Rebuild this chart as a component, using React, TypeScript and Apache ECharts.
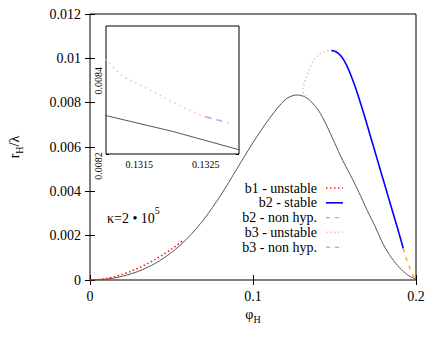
import React, { useEffect, useRef } from 'react';
import * as echarts from 'echarts';

const FONT = 'Liberation Serif, Times New Roman, serif';

// Tick values
const mainXTicks = [0, 0.1, 0.2];
const mainYTicks = [0, 0.002, 0.004, 0.006, 0.008, 0.01, 0.012];
const insetXTicks = [0.1315, 0.1325];
const insetYTicks = [0.0082, 0.0084];

// Black reference curve (no legend entry)
const blackPhi = [0, 0.01, 0.02, 0.03, 0.04, 0.05, 0.06, 0.07, 0.08, 0.09, 0.1, 0.11, 0.12, 0.127, 0.131, 0.132, 0.133, 0.135, 0.14, 0.145, 0.15, 0.155, 0.16, 0.165, 0.17, 0.175, 0.18, 0.185, 0.19, 0.195, 0.2];
const blackR = [0, 0.00004, 0.00017, 0.0004, 0.00075, 0.00124, 0.0019, 0.00275, 0.0038, 0.005, 0.0062, 0.00728, 0.00815, 0.00835, 0.00829, 0.008253, 0.00821, 0.0081, 0.00767, 0.007, 0.0062, 0.0054, 0.0047, 0.00395, 0.00315, 0.0024, 0.0016, 0.001, 0.00055, 0.00022, 0.00003];

// b1 - unstable
const b1UnstablePhi = [0, 0.005, 0.01, 0.015, 0.02, 0.025, 0.03, 0.035, 0.04, 0.045, 0.05, 0.0565];
const b1UnstableR = [0, 0.00002, 0.00007, 0.00015, 0.00026, 0.00039, 0.00055, 0.00073, 0.00093, 0.00115, 0.00139, 0.00176];

// b2 - stable
const b2StablePhi = [0.148, 0.151, 0.154, 0.157, 0.16, 0.163, 0.166, 0.169, 0.172, 0.175, 0.178, 0.181, 0.184, 0.187, 0.19, 0.1922];
const b2StableR = [0.01035, 0.0103, 0.0101, 0.00975, 0.00925, 0.00865, 0.00797, 0.00725, 0.0065, 0.00575, 0.005, 0.00425, 0.0035, 0.00275, 0.002, 0.00142];

// b2 - non hyp.
const b2NonHypPhi = [0.1922, 0.194, 0.196, 0.198, 0.1995];
const b2NonHypR = [0.00142, 0.00098, 0.00058, 0.00024, 0.00004];

// b3 - unstable
const b3UnstablePhi = [0.1325, 0.13216, 0.13176, 0.13126, 0.131, 0.1306, 0.1305, 0.1308, 0.1315, 0.1325, 0.1337, 0.135, 0.1367, 0.139, 0.1408, 0.144, 0.148];
const b3UnstableR = [0.008287, 0.008309, 0.008342, 0.008381, 0.00842, 0.0085, 0.0086, 0.0087, 0.0089, 0.0091, 0.00932, 0.0096, 0.00985, 0.01007, 0.01019, 0.0103, 0.01035];

// b3 - non hyp.
const b3NonHypPhi = [0.1325, 0.1327, 0.13284];
const b3NonHypR = [0.008287, 0.008279, 0.008273];

const legendNames = ['b1 - unstable', 'b2 - stable', 'b2 - non hyp.', 'b3 - unstable', 'b3 - non hyp.'];

const zip = (xs: number[], ys: number[]) => xs.map((x, i) => [x, ys[i]]);

const STYLES: Record<string, { color: string; width: number; dash: number[] | 'solid' }> = {
  'b1 - unstable': { color: '#ff1a1a', width: 1.6, dash: [1.5, 2.5] },
  'b2 - stable': { color: '#0000ff', width: 1.6, dash: 'solid' },
  'b2 - non hyp.': { color: '#ffa500', width: 1.4, dash: [4, 5] },
  'b3 - unstable': { color: '#ffb8c6', width: 1.6, dash: [1.5, 2.5] },
  'b3 - non hyp.': { color: '#c6a4ff', width: 1.6, dash: [4, 5] },
};

export default function App() {
  const ref = useRef<HTMLDivElement>(null);
  useEffect(() => {
    if (!ref.current) return;
    const chart = echarts.init(ref.current, undefined, { renderer: 'svg' });

    const axisTick = (len: number) => ({ show: true, inside: true, length: len, lineStyle: { color: '#000', width: 1 } });
    const mkLine = (name: string, xs: number[], ys: number[], xi: number, yi: number, smooth: number | boolean, dashOverride?: number[]) => {
      const s = STYLES[name];
      return {
        type: 'line', name, xAxisIndex: xi, yAxisIndex: yi,
        data: zip(xs, ys), showSymbol: false, symbol: 'none', smooth, clip: true,
        lineStyle: { color: s.color, width: s.width, type: dashOverride || s.dash },
        z: 3,
      };
    };

    const legendGraphics: any[] = [];
    legendNames.forEach((n, i) => {
      const y = 188 + i * 14.8;
      const s = STYLES[n];
      legendGraphics.push({
        type: 'text', x: 317, y,
        style: { text: n, fontFamily: FONT, fontSize: 14, fill: '#000', align: 'right', verticalAlign: 'middle' },
      });
      legendGraphics.push({
        type: 'line', shape: { x1: 326, y1: y, x2: 343, y2: y },
        style: { stroke: s.color, lineWidth: s.width, lineDash: s.dash === 'solid' ? null : s.dash },
      });
    });

    const subRich = {
      a: { fontFamily: FONT, fontSize: 14, color: '#000', lineHeight: 20, verticalAlign: 'middle' },
      s: { fontFamily: FONT, fontSize: 10, color: '#000', lineHeight: 20, verticalAlign: 'bottom' },
    };

    const option: any = {
      animation: false,
      backgroundColor: '#fff',
      textStyle: { fontFamily: FONT },
      grid: [
        { left: 90, top: 14, width: 326, height: 266, show: true, borderColor: '#000', borderWidth: 1, backgroundColor: 'transparent', outerBoundsMode: 'none', containLabel: false },
        { left: 106, top: 26, width: 133, height: 128, show: true, borderColor: '#000', borderWidth: 1, backgroundColor: '#fff', outerBoundsMode: 'none', containLabel: false, z: 1 },
      ],
      xAxis: [
        {
          type: 'value', gridIndex: 0, position: 'bottom', min: 0, max: 0.2, interval: 0.1,
          axisLine: { show: false }, splitLine: { show: false }, axisTick: { ...axisTick(5), customValues: mainXTicks },
          axisLabel: { customValues: mainXTicks, fontFamily: FONT, fontSize: 14, color: '#000', margin: 9 },
          name: '{a|φ}{s|H}', nameLocation: 'middle', nameGap: 22,
          nameTextStyle: { rich: subRich },
        },
        {
          type: 'value', gridIndex: 0, position: 'top', min: 0, max: 0.2, interval: 0.1,
          axisLine: { show: false }, splitLine: { show: false }, axisTick: { ...axisTick(5), customValues: mainXTicks }, axisLabel: { show: false },
        },
        {
          type: 'value', gridIndex: 1, position: 'bottom', min: 0.131, max: 0.133,
          axisLine: { show: false }, splitLine: { show: false }, axisTick: { ...axisTick(3), customValues: insetXTicks },
          axisLabel: { customValues: insetXTicks, fontFamily: FONT, fontSize: 10, color: '#000', margin: 5 },
        },
        {
          type: 'value', gridIndex: 1, position: 'top', min: 0.131, max: 0.133,
          axisLine: { show: false }, splitLine: { show: false }, axisTick: { ...axisTick(3), customValues: insetXTicks }, axisLabel: { show: false },
        },
      ],
      yAxis: [
        {
          type: 'value', gridIndex: 0, position: 'left', min: 0, max: 0.012, interval: 0.002,
          axisLine: { show: false }, splitLine: { show: false }, axisTick: { ...axisTick(5), customValues: mainYTicks },
          axisLabel: { customValues: mainYTicks, fontFamily: FONT, fontSize: 14, color: '#000', margin: 9 },
          name: '{a|r}{s|H}{a|/λ}', nameLocation: 'middle', nameGap: 66, nameRotate: 90,
          nameTextStyle: { rich: subRich },
        },
        {
          type: 'value', gridIndex: 0, position: 'right', min: 0, max: 0.012, interval: 0.002,
          axisLine: { show: false }, splitLine: { show: false }, axisTick: { ...axisTick(5), customValues: mainYTicks }, axisLabel: { show: false },
        },
        {
          type: 'value', gridIndex: 1, position: 'left', min: 0.0082, max: 0.0085, interval: 0.0002,
          axisLine: { show: false }, splitLine: { show: false }, axisTick: { ...axisTick(3), customValues: insetYTicks },
          axisLabel: {
            customValues: insetYTicks, rotate: 90, margin: 3,
            formatter: (v: number) => `{a|${v}}`,
            rich: { a: { fontFamily: FONT, fontSize: 10, color: '#000', padding: [0, 24, 0, 0] } },
          },
        },
        {
          type: 'value', gridIndex: 1, position: 'right', min: 0.0082, max: 0.0085, interval: 0.0002,
          axisLine: { show: false }, splitLine: { show: false }, axisTick: { ...axisTick(3), customValues: insetYTicks }, axisLabel: { show: false },
        },
      ],
      series: [
        {
          type: 'line', name: 'black', xAxisIndex: 0, yAxisIndex: 0, data: zip(blackPhi, blackR),
          showSymbol: false, symbol: 'none', smooth: 0.3, clip: true, lineStyle: { color: '#555', width: 1 }, z: 2,
        },
        mkLine('b1 - unstable', b1UnstablePhi, b1UnstableR, 0, 0, 0.3),
        mkLine('b2 - stable', b2StablePhi, b2StableR, 0, 0, 0.3),
        mkLine('b2 - non hyp.', b2NonHypPhi, b2NonHypR, 0, 0, 0.3),
        mkLine('b3 - unstable', b3UnstablePhi, b3UnstableR, 0, 0, 0.3),
        mkLine('b3 - non hyp.', b3NonHypPhi, b3NonHypR, 0, 0, false),
        {
          type: 'line', name: 'black-inset', xAxisIndex: 2, yAxisIndex: 2, data: zip(blackPhi, blackR),
          showSymbol: false, symbol: 'none', smooth: false, clip: true, lineStyle: { color: '#555', width: 1 }, z: 5,
        },
        { ...mkLine('b3 - unstable', b3UnstablePhi, b3UnstableR, 2, 2, false, [1.5, 4]), z: 5 },
        { ...mkLine('b3 - non hyp.', b3NonHypPhi, b3NonHypR, 2, 2, false, [6, 5]), z: 5 },
      ],
      graphic: [
        {
          type: 'text', x: 107, y: 215,
          style: {
            text: '{a|κ=2 • 10}{b|5}', verticalAlign: 'middle', align: 'left',
            rich: {
              a: { fontFamily: FONT, fontSize: 14, fill: '#000', lineHeight: 20, verticalAlign: 'bottom' },
              b: { fontFamily: FONT, fontSize: 10, fill: '#000', lineHeight: 20, verticalAlign: 'top' },
            },
          },
        },
        ...legendGraphics,
      ],
    };
    chart.setOption(option);
    return () => chart.dispose();
  }, []);
  return <div ref={ref} style={{ position: 'fixed', left: 0, top: 0, width: 444, height: 342 }} />;
}
